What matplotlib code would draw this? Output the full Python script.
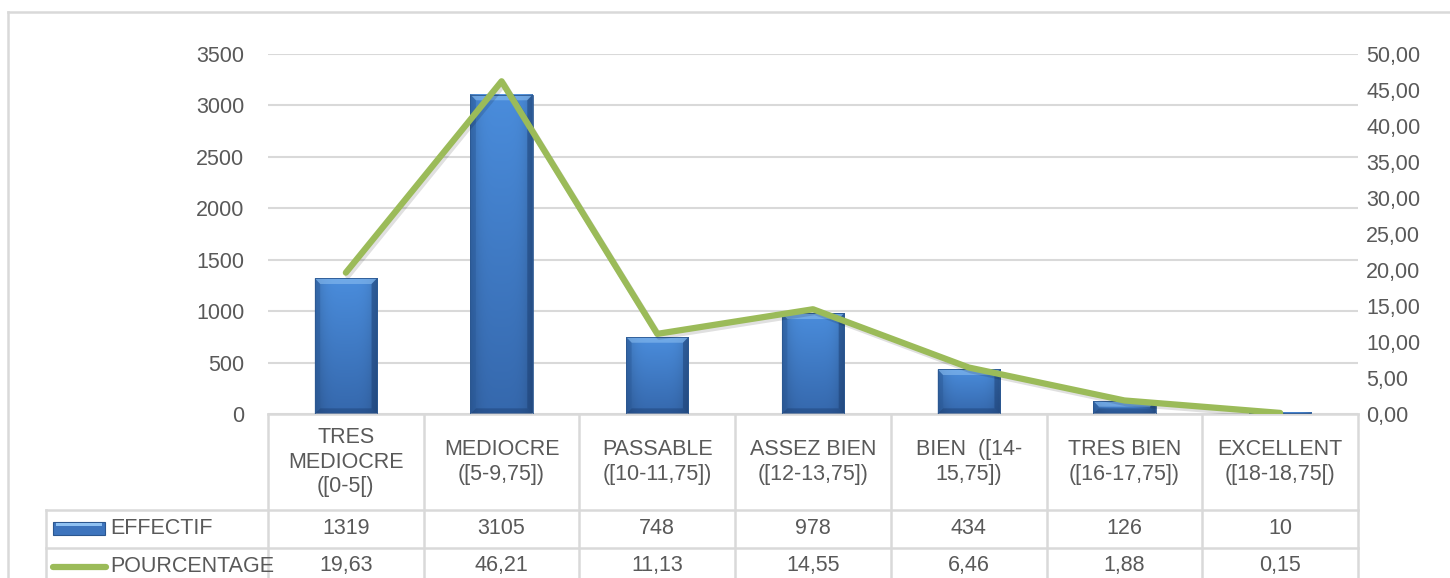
import matplotlib
matplotlib.use("Agg")
import matplotlib.pyplot as plt
import matplotlib.patches as mpatches
import matplotlib.patheffects as pe
from matplotlib.lines import Line2D
from matplotlib.transforms import blended_transform_factory
from matplotlib.ticker import FuncFormatter
import numpy as np

plt.rcParams['font.family'] = ['Liberation Sans', 'DejaVu Sans']

categories = ["TRES\nMEDIOCRE\n([0-5[)", "MEDIOCRE\n([5-9,75])", "PASSABLE\n([10-11,75])",
              "ASSEZ BIEN\n([12-13,75])", "BIEN  ([14-\n15,75])", "TRES BIEN\n([16-17,75])",
              "EXCELLENT\n([18-18,75[)"]
effectif = [1319, 3105, 748, 978, 434, 126, 10]
pourcentage = [19.63, 46.21, 11.13, 14.55, 6.46, 1.88, 0.15]
left_ticks = list(range(0, 3501, 500))
right_ticks = list(range(0, 51, 5))

TXT = '#595959'
GRID = '#d9d9d9'
GREEN = '#9bbb59'
FS = 15.5


def fr(v, pos=None):
    return "{:.2f}".format(v).replace('.', ',')


def bevel_bar(ax, x, h, w=0.4, bx=0.035, by=55):
    '''
    Draws a bar with a blue gradient and a small bevel, like the Excel style
    '''
    if h <= 0:
        return
    x0, x1 = x - w / 2, x + w / 2
    ny, nx = 40, 24
    top = np.array([0.29, 0.55, 0.86])
    bot = np.array([0.21, 0.41, 0.68])
    t = np.linspace(0, 1, ny)[:, None, None]
    col = top * (1 - t) + bot * t
    s = np.linspace(-1, 1, nx)[None, :, None]
    shade = 1 - 0.18 * s ** 4
    img = np.clip(col * shade, 0, 1)
    ax.imshow(img, extent=(x0, x1, 0, h), aspect='auto', interpolation='bilinear',
              zorder=2, origin='upper')
    by = min(by, h / 2)
    ax.add_patch(mpatches.Polygon([(x0, h), (x1, h), (x1 - bx, h - by), (x0 + bx, h - by)],
                                  closed=True, facecolor='#8fc1f2', alpha=0.55, lw=0, zorder=3))
    ax.add_patch(mpatches.Polygon([(x0, 0), (x1, 0), (x1 - bx, by), (x0 + bx, by)],
                                  closed=True, facecolor='#1c3f73', alpha=0.45, lw=0, zorder=3))
    ax.add_patch(mpatches.Polygon([(x0, 0), (x0, h), (x0 + bx, h - by), (x0 + bx, by)],
                                  closed=True, facecolor='#2a5a9a', alpha=0.45, lw=0, zorder=3))
    ax.add_patch(mpatches.Polygon([(x1, 0), (x1, h), (x1 - bx, h - by), (x1 - bx, by)],
                                  closed=True, facecolor='#1c3f73', alpha=0.5, lw=0, zorder=3))
    ax.add_patch(mpatches.Rectangle((x0, 0), w, h, facecolor='none', edgecolor='#2b5790',
                                    lw=0.6, zorder=3))


fig = plt.figure(figsize=(14.5, 5.78), dpi=100)
L, R, B, T = 268 / 1450, 1358 / 1450, 1 - 414 / 578, 1 - 54 / 578
ax = fig.add_axes([L, B, R - L, T - B])
ax2 = ax.twinx()

xs = np.arange(len(categories))
for x, h in zip(xs, effectif):
    bevel_bar(ax, x, h)

ax.set_xlim(-0.5, len(categories) - 0.5)
ax.set_ylim(0, 3500)
ax.set_yticks(left_ticks)
ax.set_xticks([])
ax.grid(axis='y', color=GRID, lw=1.5, zorder=0)
ax.set_axisbelow(True)
ax.tick_params(axis='y', length=0, pad=17, labelsize=FS, labelcolor=TXT)

ax2.plot(xs, pourcentage, color=GREEN, lw=4.5, solid_capstyle='round', zorder=5,
         path_effects=[pe.SimpleLineShadow(offset=(1.5, -2), alpha=0.12), pe.Normal()])
ax2.set_ylim(0, 50)
ax2.set_yticks(right_ticks)
ax2.yaxis.set_major_formatter(FuncFormatter(fr))
ax2.tick_params(axis='y', length=0, pad=6, labelsize=FS, labelcolor=TXT)

for a in (ax, ax2):
    for sp in a.spines.values():
        sp.set_visible(False)

# data table under the plot
tr = blended_transform_factory(ax.transData, ax.transAxes)
h_ph = 360.0
y_hdr = -96 / h_ph
y_r1 = -134 / h_ph
y_bot = -0.6
xl = (46 - 268) / 1090
lkw = dict(color=GRID, lw=1.8, clip_on=False)

ax.add_line(Line2D([-0.5, len(categories) - 0.5], [0, 0], transform=tr, **lkw))
for yy in (y_hdr, y_r1):
    ax.add_line(Line2D([xl, 1], [yy, yy], transform=ax.transAxes, **lkw))
for b in np.arange(len(categories) + 1) - 0.5:
    ax.add_line(Line2D([b, b], [0, y_bot], transform=tr, **lkw))
ax.add_line(Line2D([xl, xl], [y_hdr, y_bot], transform=ax.transAxes, **lkw))

for x, c, e, p in zip(xs, categories, effectif, pourcentage):
    ax.text(x, y_hdr / 2, c, transform=tr, ha='center', va='center', fontsize=FS,
            color=TXT, linespacing=1.2, clip_on=False)
    ax.text(x, -115 / h_ph, str(e), transform=tr, ha='center', va='center', fontsize=FS,
            color=TXT, clip_on=False)
    ax.text(x, -152 / h_ph, fr(p), transform=tr, ha='center', va='center', fontsize=FS,
            color=TXT, clip_on=False)

# legend keys in the table
ta = ax.transAxes
ax.add_patch(mpatches.Rectangle(((53 - 268) / 1090, -121 / h_ph), 52 / 1090, 13 / h_ph,
                                transform=ta, clip_on=False, facecolor='#3d74bd',
                                edgecolor='#2b5790', lw=0.8))
ax.add_patch(mpatches.Rectangle(((56 - 268) / 1090, -112 / h_ph), 46 / 1090, 3 / h_ph,
                                transform=ta, clip_on=False, facecolor='#8fc1f2', lw=0))
ax.text((110 - 268) / 1090, -115 / h_ph, "EFFECTIF", transform=ta, ha='left', va='center',
        fontsize=FS, color=TXT, clip_on=False)
ax.add_line(Line2D([(53 - 268) / 1090, (106 - 268) / 1090], [-153 / h_ph, -153 / h_ph],
                   transform=ta, color=GREEN, lw=4.5, solid_capstyle='round', clip_on=False))
ax.text((110 - 268) / 1090, -152 / h_ph, "POURCENTAGE", transform=ta, ha='left', va='center',
        fontsize=FS, color=TXT, clip_on=False)

# chart border
bkw = dict(color=GRID, lw=1.8, transform=fig.transFigure)
fig.add_artist(Line2D([8 / 1450, 1], [1 - 12 / 578, 1 - 12 / 578], **bkw))
fig.add_artist(Line2D([8 / 1450, 8 / 1450], [0, 1 - 12 / 578], **bkw))

fig.savefig("out.png", dpi=100, facecolor='white')
